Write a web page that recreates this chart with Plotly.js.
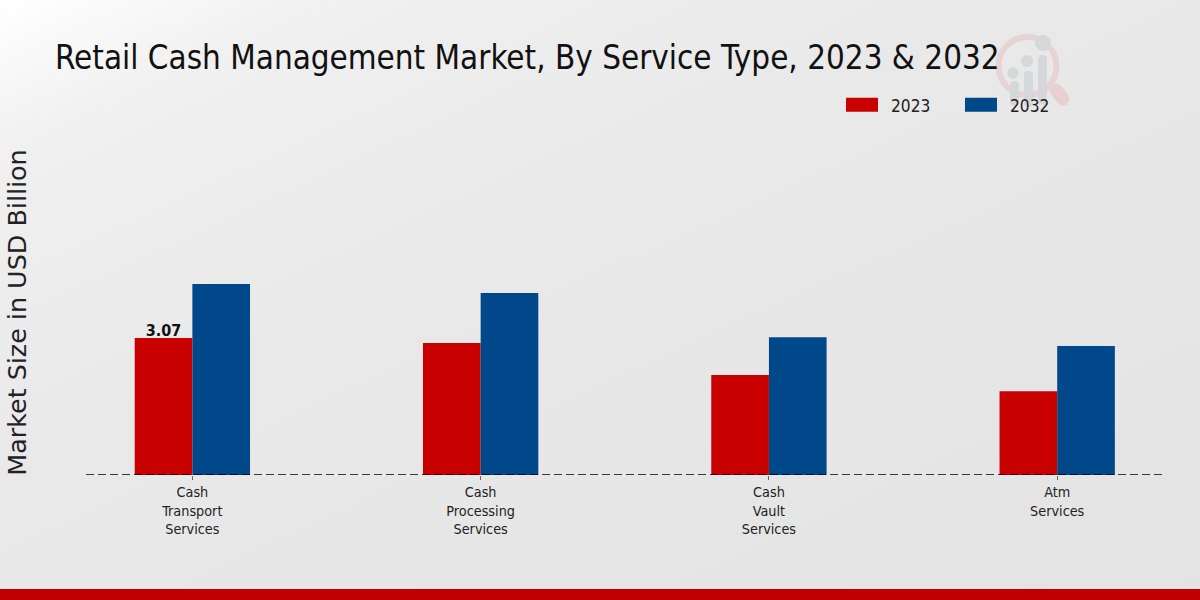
<!DOCTYPE html>
<html>
<head>
<meta charset="utf-8">
<script src="https://cdn.plot.ly/plotly-3.0.1.min.js"></script>
<style>
html,body{margin:0;padding:0;width:1200px;height:600px;overflow:hidden;background:#e8e8e8}
#bg{position:absolute;left:0;top:0;width:1200px;height:600px;background:linear-gradient(155deg,#ffffff 0%,#f0f0f1 14%,#e9e9e9 40%,#e3e3e3 100%)}
#logo{position:absolute;left:0;top:0}
#chart{position:absolute;left:0;top:0;width:1200px;height:600px}
</style>
</head>
<body>
<div id="bg"></div>
<svg id="logo" width="1200" height="600">
  <circle cx="1027.5" cy="66" r="29" fill="none" stroke="#e6d4d5" stroke-width="6"/>
  <line x1="1056" y1="90" x2="1063" y2="99" stroke="#e6d0d2" stroke-width="13" stroke-linecap="round"/>
  <g fill="#d6d7da">
    <circle cx="1013" cy="73" r="5.5"/><circle cx="1027" cy="61" r="6"/><circle cx="1043" cy="43" r="8"/>
    <rect x="1010" y="81" width="9" height="25" rx="4"/>
    <rect x="1024" y="71" width="9" height="36" rx="4"/>
    <rect x="1038" y="55" width="9" height="50" rx="4"/>
  </g>
</svg>
<div id="chart"></div>
<script>
var categories = ["Cash<br>Transport<br>Services", "Cash<br>Processing<br>Services", "Cash<br>Vault<br>Services", "Atm<br>Services"];
var values2023 = [3.07, 2.96, 2.24, 1.88];
var values2032 = [4.28, 4.08, 3.09, 2.89];
var labels2023 = ["3.07", "", "", ""];
var seriesNames = ["2023", "2032"];
var colors = ["#c80000", "#00488a"];
var titleText = "Retail Cash Management Market, By Service Type, 2023 & 2032";
var yTitleText = "Market Size in USD Billion";
var narrow = "'DejaVu Sans Condensed','DejaVu Sans',sans-serif";
var wide = "'DejaVu Sans',sans-serif";

var traces = [
  {type:"bar", name:seriesNames[0], x:categories, y:values2023, marker:{color:colors[0]},
   text:labels2023, textposition:"outside", cliponaxis:false,
   textfont:{family:narrow, size:16, color:"#111"}, texttemplate:"<b>%{text}</b>", hoverinfo:"x+y"},
  {type:"bar", name:seriesNames[1], x:categories, y:values2032, marker:{color:colors[1]}, hoverinfo:"x+y"}
];
var layout = {
  width:1200, height:600,
  paper_bgcolor:"rgba(0,0,0,0)", plot_bgcolor:"rgba(0,0,0,0)",
  margin:{l:86, r:37, t:150, b:125},
  barmode:"group", bargap:0.6, bargroupgap:0,
  title:{text:titleText, font:{family:narrow, size:32.9, color:"#111"}, x:55/1200, xanchor:"left", y:0.904, yanchor:"middle"},
  xaxis:{type:"category", range:[-0.369,3.367], showgrid:false, zeroline:false, showline:false,
         ticks:"outside", ticklen:4, tickwidth:1, tickcolor:"#666",
         tickfont:{family:narrow, size:14.3, color:"#222"}, tickangle:0, automargin:false},
  yaxis:{range:[0,7.287], showgrid:false, zeroline:false, showline:false, showticklabels:false, ticks:"",
         title:{text:yTitleText, font:{family:wide, size:25.4, color:"#222"}, standoff:51}, automargin:false},
  showlegend:true,
  legend:{orientation:"h", x:(842-86)/1077, xanchor:"left", y:1.138, yanchor:"middle", itemwidth:30, entrywidth:74, entrywidthmode:"pixels",
          font:{family:narrow, size:17.2, color:"#222"}, bgcolor:"rgba(0,0,0,0)", traceorder:"normal", itemclick:false, itemdoubleclick:false},
  shapes:[
    {type:"line", xref:"paper", yref:"y", x0:0, x1:1, y0:0, y1:0, layer:"above", line:{color:"#000", width:1.6, dash:"8px 4px"}},
    {type:"rect", xref:"paper", yref:"paper", x0:-0.08, x1:1.04, y0:-0.3508, y1:-0.3846, layer:"above", line:{width:0}, fillcolor:"#c00000"}
  ]
};
Plotly.newPlot("chart", traces, layout, {displayModeBar:false, responsive:false}).then(function(gd){
  gd.querySelectorAll(".legend .legendbar path, .legend .legendbars path, .legend .legendpoints path").forEach(function(p){
    p.setAttribute("d","M16,7H-16V-7H16Z");
  });
  gd.querySelectorAll(".legend text.legendtext").forEach(function(t){
    t.setAttribute("x","49");
  });
  gd.querySelectorAll(".bars .bartext").forEach(function(t){
    t.setAttribute("transform","translate(0,4.5) "+(t.getAttribute("transform")||""));
  });
});
</script>
</body>
</html>
